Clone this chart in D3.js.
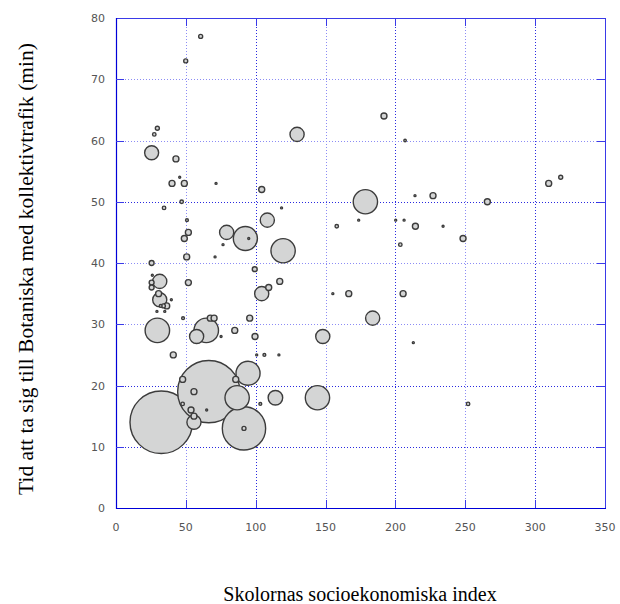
<!DOCTYPE html>
<html>
<head>
<meta charset="utf-8">
<script src="https://cdn.jsdelivr.net/npm/d3@7"></script>
<style>
  html, body { margin: 0; padding: 0; background: #fff; }
  svg { display: block; }
</style>
</head>
<body>
<div id="chart"></div>
<script>
// ---- data: one entry per school ----
// socio-economic index (x)
const sesIndex = [
  60.6, 49.9, 29.6, 27.4, 25.5, 42.9, 45.6, 40.1, 48.9, 71.6,
  104.3, 47.0, 34.4, 118.5, 158, 173.7, 50.8, 51.8, 48.9, 79.2,
  92.6, 95, 108.3, 119.6, 129.6, 70.9, 76.6, 50.6, 191.8, 206.9,
  178.5, 200.2, 206.2, 214, 226.9, 214.3, 234.1, 203.5, 248.4, 265.8,
  309.7, 318.3, 205.5, 183.7, 212.8, 252, 155.2, 166.6, 25.5, 26,
  31.3, 25.5, 25.5, 51.8, 30.5, 31.3, 39.6, 36.3, 33.9, 32.0,
  29.3, 34.9, 99.3, 104.3, 109.3, 117.2, 29.6, 48, 67.5, 70.2,
  64.6, 57.7, 75.2, 85, 95.7, 99.5, 41, 100.7, 106.2, 116.6,
  148, 66.4, 32.4, 91.6, 91.6, 94.5, 86.7, 144.2, 114.1, 55.8,
  47.7, 55.8, 85.7, 53.7, 55.8, 47.7, 64.9, 103.3
];
// travel time to Botaniska by public transport, minutes (y)
const travelMin = [
  77, 73, 62, 61, 58, 57, 54, 53, 53, 53,
  52, 50, 49, 49, 46, 47, 47, 45, 44, 45,
  44, 44, 47, 42, 61, 41, 43, 41, 64, 60,
  50, 47, 47, 51, 51, 46, 46, 43, 44, 50,
  53, 54, 35, 31, 27, 17, 35, 35, 40, 38,
  37, 36.8, 36, 36.8, 35, 34, 34, 33, 33, 33,
  32.1, 32.1, 39, 35, 36, 37, 29, 31, 31, 31,
  29, 28, 28, 29, 31, 28, 25, 25, 25, 25,
  28, 19, 14, 13, 13, 22, 18, 18, 18, 14,
  21, 19, 21, 16, 15, 17, 16, 17
];
// bubble size (number of pupils, approx.)
const pupils = [
  4, 4, 4, 3, 49, 9, 1, 9, 9, 1,
  9, 3, 3, 1, 3, 1, 2, 9, 9, 50,
  145, 1, 50, 148, 50, 1, 1, 9, 9, 1.5,
  148, 1, 1, 1, 9, 9, 1, 3, 9, 9,
  9, 4, 9, 50, 1, 3, 1, 9, 6, 1,
  50, 6, 6, 9, 9, 50, 1, 9, 4, 2,
  1, 1, 6, 50, 9, 9, 150, 2, 9, 9,
  150, 50, 1, 9, 9, 9, 9, 1, 2, 1,
  50, 970, 980, 470, 4, 145, 148, 148, 53, 50,
  9, 9, 9, 9, 9, 3, 1, 2
];

const xTicks = [0, 50, 100, 150, 200, 250, 300, 350];
const yTicks = [0, 10, 20, 30, 40, 50, 60, 70, 80];
const xMajor = [100, 200, 300];
const yMajor = [10, 20, 50];

const xTitle = "Skolornas socioekonomiska index";
const yTitle = "Tid att ta sig till Botaniska med kollektivtrafik (min)";

// ---- drawing ----
const W = 620, H = 604;
const L = 116, R = 605, T = 18, B = 508;

const svg = d3.select('#chart').append('svg')
  .attr('width', W)
  .attr('height', H);

const x = d3.scaleLinear().domain([0, 350]).range([L, R]);
const y = d3.scaleLinear().domain([0, 80]).range([B, T]);
const r = d3.scaleSqrt().domain([0, 1000]).range([0, 31.6]);

// grid
const grid = svg.append('g').attr('fill', 'none').attr('stroke-width', 1);
grid.selectAll('line.gx')
  .data(xTicks.filter(d => d > 0 && d < 350))
  .join('line')
  .attr('x1', d => Math.round(x(d)) + 0.5).attr('x2', d => Math.round(x(d)) + 0.5)
  .attr('y1', T).attr('y2', B)
  .attr('stroke', d => xMajor.includes(d) ? '#2a2ae0' : '#8c8cf5')
  .attr('stroke-dasharray', '1,2');
grid.selectAll('line.gy')
  .data(yTicks.filter(d => d > 0 && d < 80))
  .join('line')
  .attr('y1', d => Math.round(y(d)) + 0.5).attr('y2', d => Math.round(y(d)) + 0.5)
  .attr('x1', L).attr('x2', R)
  .attr('stroke', d => yMajor.includes(d) ? '#2a2ae0' : '#8c8cf5')
  .attr('stroke-dasharray', '1,2');

// frame
svg.append('rect')
  .attr('x', L + 0.5).attr('y', T + 0.5)
  .attr('width', R - L).attr('height', B - T)
  .attr('fill', 'none').attr('stroke', '#3a3ae8');
svg.append('path')
  .attr('d', `M${L + 0.5},${T}V${B + 0.5}H${R + 1}`)
  .attr('fill', 'none').attr('stroke', '#0000d8').attr('stroke-width', 1.2);

// inward ticks
const ticks = svg.append('g').attr('stroke', '#3a3ae8');
ticks.selectAll('line.tb')
  .data(xTicks.filter(d => d > 0 && d < 350))
  .join('line')
  .attr('x1', d => Math.round(x(d)) + 0.5).attr('x2', d => Math.round(x(d)) + 0.5)
  .attr('y1', B).attr('y2', B - 8);
ticks.selectAll('line.tt')
  .data(xTicks.filter(d => d > 0 && d < 350))
  .join('line')
  .attr('x1', d => Math.round(x(d)) + 0.5).attr('x2', d => Math.round(x(d)) + 0.5)
  .attr('y1', T).attr('y2', T + 8);
ticks.selectAll('line.tl')
  .data(yTicks.filter(d => d > 0 && d < 80))
  .join('line')
  .attr('y1', d => Math.round(y(d)) + 0.5).attr('y2', d => Math.round(y(d)) + 0.5)
  .attr('x1', L).attr('x2', L + 8);
ticks.selectAll('line.tr')
  .data(yTicks.filter(d => d > 0 && d < 80))
  .join('line')
  .attr('y1', d => Math.round(y(d)) + 0.5).attr('y2', d => Math.round(y(d)) + 0.5)
  .attr('x1', R - 8).attr('x2', R);

// tick labels
const lab = svg.append('g')
  .attr('font-family', 'DejaVu Sans, sans-serif')
  .attr('font-size', 11)
  .attr('fill', '#555');
lab.selectAll('text.xl')
  .data(xTicks)
  .join('text')
  .attr('x', d => x(d))
  .attr('y', 531)
  .attr('text-anchor', 'middle')
  .text(d => d);
lab.selectAll('text.yl')
  .data(yTicks)
  .join('text')
  .attr('x', 105)
  .attr('y', d => y(d) + 4)
  .attr('text-anchor', 'end')
  .text(d => d);

// bubbles, big ones first so the small rings stay on top
const schools = sesIndex.map((v, i) => ({ x: v, y: travelMin[i], n: pupils[i] }))
  .sort((a, b) => b.n - a.n);

svg.append('g')
  .selectAll('circle')
  .data(schools)
  .join('circle')
  .attr('cx', d => x(d.x))
  .attr('cy', d => y(d.y))
  .attr('r', d => r(d.n))
  .attr('fill', '#d4d5d5')
  .attr('stroke', '#3c3c3c')
  .attr('stroke-width', 1.4);

// axis titles
svg.append('text')
  .attr('x', 360)
  .attr('y', 601)
  .attr('text-anchor', 'middle')
  .attr('font-family', 'Liberation Serif, Times New Roman, serif')
  .attr('font-size', 20)
  .attr('fill', '#000')
  .text(xTitle);

svg.append('text')
  .attr('transform', 'translate(33,269) rotate(-90)')
  .attr('text-anchor', 'middle')
  .attr('font-family', 'Liberation Serif, Times New Roman, serif')
  .attr('font-size', 21.5)
  .attr('fill', '#000')
  .text(yTitle);
</script>
</body>
</html>
